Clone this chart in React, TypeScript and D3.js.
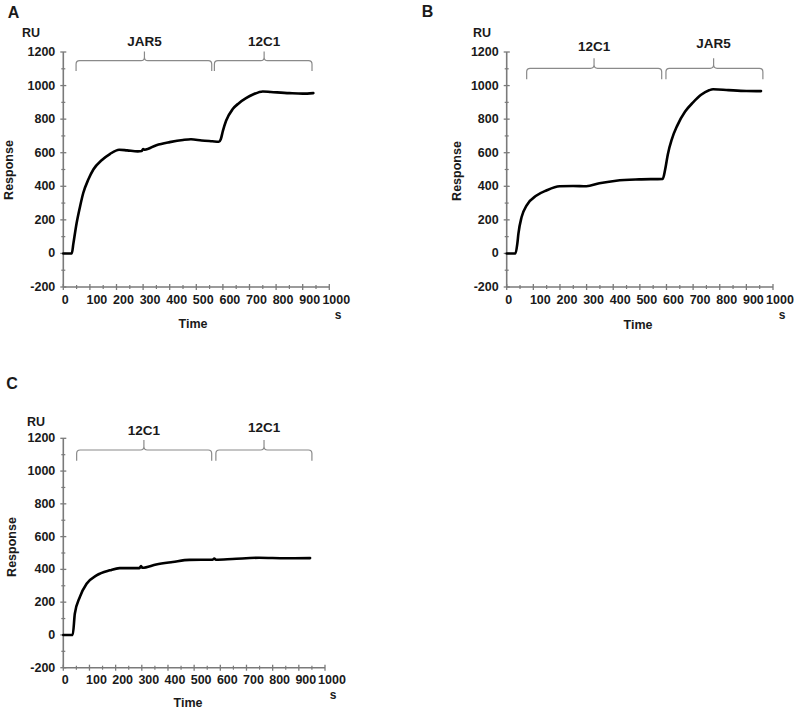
import React from "react";
import * as d3 from "d3";

// ---- shared ticks ----
const xMajorTicks = [0, 100, 200, 300, 400, 500, 600, 700, 800, 900, 1000];
const yMajorTicks = [-200, 0, 200, 400, 600, 800, 1000, 1200];

// ---- Panel A: JAR5 then 12C1 ----
const timeA = [0, 32, 38, 50, 63, 75, 94, 113, 144, 175, 210, 240, 280, 295, 300, 306, 350, 400, 450, 480, 520, 560, 585, 592, 600, 612, 637, 660, 687, 715, 750, 780, 850, 900, 940];
const respA = [0, 0, 60, 180, 280, 360, 440, 500, 555, 592, 618, 614, 608, 610, 622, 618, 645, 663, 676, 680, 673, 668, 665, 680, 730, 790, 860, 895, 925, 948, 965, 962, 955, 952, 955];
const bracketLabelsA = ["JAR5", "12C1"];
const bracketStartA = [48, 568];
const bracketEndA = [558, 935];
const bracketMidA = [305, 755];

// ---- Panel B: 12C1 then JAR5 ----
const timeB = [0, 33, 40, 44, 56, 75, 112, 149, 199, 249, 299, 348, 411, 498, 586, 595, 605, 620, 640, 670, 700, 730, 760, 775, 833, 900, 955];
const respB = [0, 0, 60, 118, 217, 286, 345, 375, 400, 402, 400, 418, 433, 441, 444, 500, 590, 680, 760, 845, 900, 945, 972, 978, 973, 968, 967];
const bracketLabelsB = ["12C1", "JAR5"];
const bracketStartB = [75, 598];
const bracketEndB = [582, 962];
const bracketMidB = [328, 777];

// ---- Panel C: 12C1 then 12C1 ----
const timeC = [0, 36, 44, 63, 89, 127, 178, 215, 291, 297, 302, 355, 418, 482, 570, 577, 583, 646, 748, 850, 943];
const respC = [0, 0, 129, 231, 312, 363, 394, 408, 408, 420, 410, 430, 445, 458, 459, 466, 459, 463, 471, 468, 469];
const bracketLabelsC = ["12C1", "12C1"];
const bracketStartC = [51, 583];
const bracketEndC = [567, 950];
const bracketMidC = [308, 767];

const FONT = "'Liberation Sans', Arial, Helvetica, sans-serif";
const AXIS = "#7a7a7a";
const TXT = "#1a1a1a";

type PanelProps = {
  letter: string;
  letterPos: [number, number];
  xRange: [number, number];
  yRange: [number, number];
  time: number[];
  resp: number[];
  bLabels: string[];
  bStart: number[];
  bEnd: number[];
  bMid: number[];
  bTop: number;
  bBot: number;
  bTick: number;
  bLabelY: number[];
  ruPos: [number, number];
  respPos: [number, number];
  sPos: [number, number];
  timePos: [number, number];
  tickLabelY: number;
};

function bracketPath(x1: number, x2: number, xm: number, yT: number, yB: number, yK: number) {
  const r = 3.5;
  return [
    `M${x1},${yB}`,
    `L${x1},${yT + r}`,
    `Q${x1},${yT} ${x1 + r},${yT}`,
    `L${xm - r},${yT}`,
    `Q${xm},${yT} ${xm},${yT - r}`,
    `L${xm},${yK}`,
    `M${xm},${yT - r}`,
    `Q${xm},${yT} ${xm + r},${yT}`,
    `L${x2 - r},${yT}`,
    `Q${x2},${yT} ${x2},${yT + r}`,
    `L${x2},${yB}`,
  ].join(" ");
}

function Panel(p: PanelProps) {
  const x = d3.scaleLinear().domain([0, 1000]).range(p.xRange);
  const y = d3.scaleLinear().domain([-200, 1200]).range(p.yRange);
  const pts = p.time.map((t, i) => [t, p.resp[i]] as [number, number]);
  const line = d3
    .line<[number, number]>()
    .x((d) => x(d[0]))
    .y((d) => y(d[1]))
    .curve(d3.curveMonotoneX);
  const x0 = p.xRange[0];
  const yBase = p.yRange[0];
  const xMinor = d3.range(50, 1000, 100);
  const yMinor = d3.range(-100, 1200, 200);
  return (
    <g fontFamily={FONT} fontWeight="bold" fill={TXT}>
      <text x={p.letterPos[0]} y={p.letterPos[1]} fontSize={16} textAnchor="middle" dominantBaseline="central">
        {p.letter}
      </text>
      <text x={p.ruPos[0]} y={p.ruPos[1]} fontSize={12.5} textAnchor="middle" dominantBaseline="central">
        RU
      </text>
      <text
        transform={`translate(${p.respPos[0]},${p.respPos[1]}) rotate(-90)`}
        fontSize={12.5}
        textAnchor="middle"
        dominantBaseline="central"
      >
        Response
      </text>
      {/* y axis */}
      <line x1={x0} x2={x0} y1={y(-200)} y2={y(1200)} stroke={AXIS} strokeWidth={1.6} />
      {yMajorTicks.map((v) => (
        <g key={"ym" + v}>
          <line x1={x0 - 3} x2={x0 + 3} y1={y(v)} y2={y(v)} stroke={AXIS} strokeWidth={1.3} />
          <text x={x0 - 8} y={y(v)} fontSize={12.5} textAnchor="end" dominantBaseline="central">
            {v}
          </text>
        </g>
      ))}
      {yMinor.map((v) => (
        <line key={"yn" + v} x1={x0 - 2} x2={x0 + 2} y1={y(v)} y2={y(v)} stroke={AXIS} strokeWidth={1.2} />
      ))}
      {/* x axis */}
      <line x1={x(0)} x2={x(1000)} y1={yBase} y2={yBase} stroke={AXIS} strokeWidth={1.6} />
      {xMajorTicks.map((t) => (
        <g key={"xm" + t}>
          <line x1={x(t)} x2={x(t)} y1={yBase - 3} y2={yBase + 3} stroke={AXIS} strokeWidth={1.3} />
          <text
            x={x(t) + (t === 0 ? 2 : 7)}
            y={p.tickLabelY}
            fontSize={12.5}
            textAnchor="middle"
            dominantBaseline="central"
          >
            {t}
          </text>
        </g>
      ))}
      {xMinor.map((t) => (
        <line key={"xn" + t} x1={x(t)} x2={x(t)} y1={yBase - 2} y2={yBase + 2} stroke={AXIS} strokeWidth={1.2} />
      ))}
      <text x={p.sPos[0]} y={p.sPos[1]} fontSize={12} textAnchor="middle">
        s
      </text>
      <text x={p.timePos[0]} y={p.timePos[1]} fontSize={12.5} textAnchor="middle" dominantBaseline="central">
        Time
      </text>
      {/* brackets */}
      {p.bLabels.map((lab, i) => (
        <g key={"b" + i}>
          <path
            d={bracketPath(x(p.bStart[i]), x(p.bEnd[i]), x(p.bMid[i]), p.bTop, p.bBot, p.bTick)}
            fill="none"
            stroke="#8a8a8a"
            strokeWidth={1.2}
          />
          <text x={x(p.bMid[i])} y={p.bLabelY[i]} fontSize={13.5} textAnchor="middle" dominantBaseline="central">
            {lab}
          </text>
        </g>
      ))}
      {/* sensorgram */}
      <path d={line(pts) || ""} fill="none" stroke="#000" strokeWidth={2.6} strokeLinejoin="round" strokeLinecap="round" />
    </g>
  );
}

export default function App() {
  return (
    <svg
      width={800}
      height={710}
      style={{ position: "absolute", left: 0, top: 0, background: "#fff" }}
    >
      <rect width={800} height={710} fill="#fff" />
      <Panel
        letter="A"
        letterPos={[13.5, 12]}
        xRange={[63.3, 329.3]}
        yRange={[287, 52]}
        time={timeA}
        resp={respA}
        bLabels={bracketLabelsA}
        bStart={bracketStartA}
        bEnd={bracketEndA}
        bMid={bracketMidA}
        bTop={60.7}
        bBot={71}
        bTick={51.5}
        bLabelY={[41.7, 41.7]}
        ruPos={[31, 33]}
        respPos={[8.5, 170]}
        sPos={[338, 318.5]}
        timePos={[193, 324]}
        tickLabelY={299.5}
      />
      <Panel
        letter="B"
        letterPos={[427.5, 11]}
        xRange={[506.7, 773]}
        yRange={[287, 52]}
        time={timeB}
        resp={respB}
        bLabels={bracketLabelsB}
        bStart={bracketStartB}
        bEnd={bracketEndB}
        bMid={bracketMidB}
        bTop={68.3}
        bBot={79.3}
        bTick={58.3}
        bLabelY={[46.7, 43.3]}
        ruPos={[482, 33]}
        respPos={[456.7, 171]}
        sPos={[782, 318.5]}
        timePos={[638, 325]}
        tickLabelY={299.5}
      />
      <Panel
        letter="C"
        letterPos={[12, 383]}
        xRange={[63.3, 325]}
        yRange={[667.7, 438.3]}
        time={timeC}
        resp={respC}
        bLabels={bracketLabelsC}
        bStart={bracketStartC}
        bEnd={bracketEndC}
        bMid={bracketMidC}
        bTop={450}
        bBot={460.7}
        bTick={440}
        bLabelY={[430, 427]}
        ruPos={[36, 421.7]}
        respPos={[11.7, 547]}
        sPos={[333, 699]}
        timePos={[188, 703]}
        tickLabelY={680}
      />
    </svg>
  );
}
